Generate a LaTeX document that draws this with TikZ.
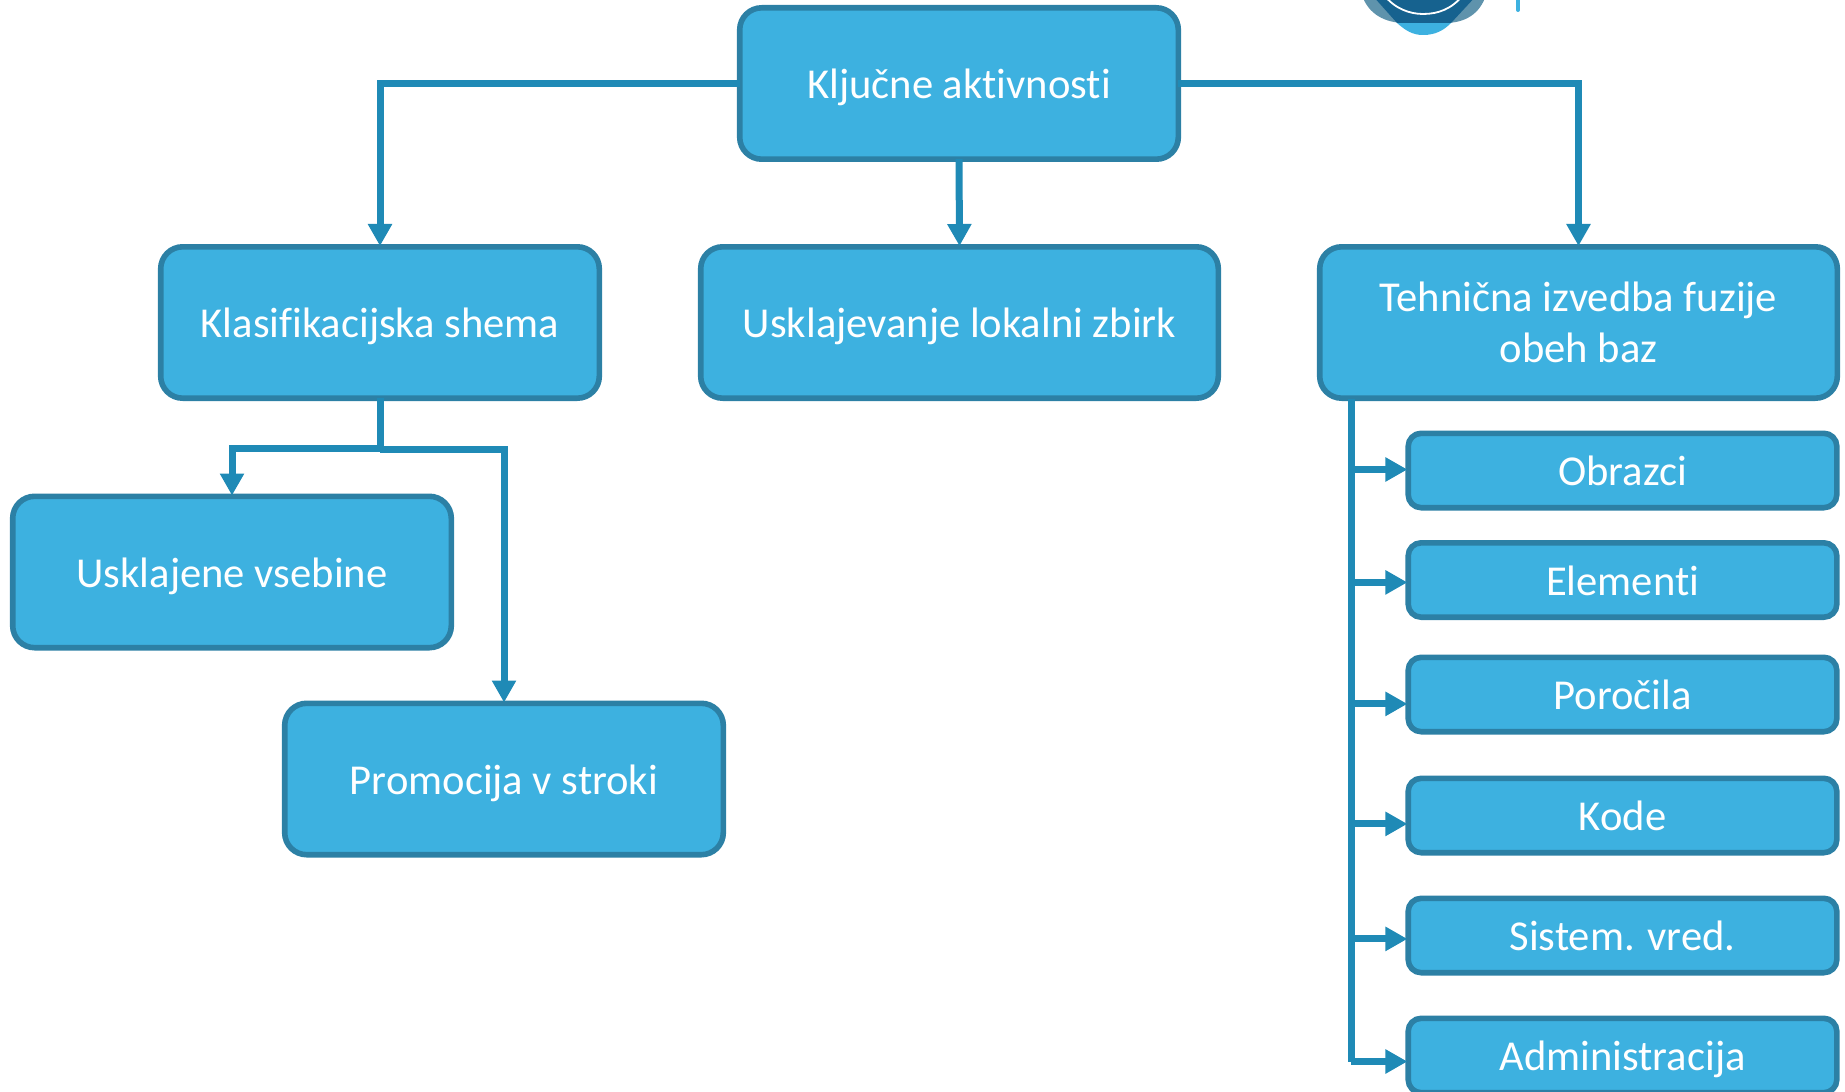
\documentclass[tikz,border=0pt]{standalone}
\usepackage{fontspec}
\setmainfont{Carlito}[Ligatures=NoCommon]
\usetikzlibrary{arrows.meta}
\definecolor{boxfill}{HTML}{3DB1E0}
\definecolor{boxedge}{HTML}{2C80A5}
\definecolor{linkcol}{HTML}{1F8AB6}
\definecolor{logomid}{HTML}{5F93AC}
\definecolor{logodark}{HTML}{16628F}
\tikzset{
  x=0.5pt,y=-0.5pt,
  boxbase/.style={draw=boxedge,fill=boxfill,line width=2.8pt,text=white,align=center,inner sep=0pt,outer sep=0pt,font=\fontsize{21.3}{25.5}\selectfont},
  oneline/.style={text height=15pt,text depth=0pt},
  bigbox/.style={boxbase,rounded corners=11pt,minimum height=75.7pt},
  smallbox/.style={boxbase,oneline,rounded corners=6.5pt,minimum width=214.3pt,minimum height=37.2pt},
  link/.style={draw=linkcol,line width=3.5pt,shorten >=0.4pt,-{Triangle[length=11pt,width=11.5pt]}},
  plainlink/.style={draw=linkcol,line width=3.5pt},
}
\begin{document}
\begin{tikzpicture}
\useasboundingbox (0,0) rectangle (1845,1091);
\clip (0,0) rectangle (1845,1091);
% logo fragment
\fill[logomid] (1362,-5) .. controls (1368,14) and (1385,23) .. (1405,23) -- (1445,23) .. controls (1465,23) and (1480,14) .. (1486,-5) -- cycle;
\fill[boxfill] (1397,23) .. controls (1405,30) and (1412,35) .. (1423,35) .. controls (1436,35) and (1444,30) .. (1451,23) -- cycle;
\fill[logodark] (1372,-5) -- (1397,23) -- (1451,23) -- (1477,-5) -- cycle;
\draw[white,line width=0.9pt] (1384,-5) .. controls (1395,9) and (1410,14) .. (1423,14) .. controls (1438,14) and (1452,9) .. (1463,-5);
\draw[boxfill,line width=2pt,line cap=round] (1518,-5) -- (1518,10);
% boxes
\node[bigbox,oneline,minimum width=219.3pt] (key) at (959,83.5) {Ključne aktivnosti};
\node[bigbox,oneline,minimum width=219.3pt] (klas) at (380,322.5) {Klasifikacijska shema};
\node[bigbox,oneline,minimum width=258.8pt] (lok) at (959.5,322.5) {Usklajevanje lokalni zbirk};
\node[bigbox,minimum width=258.8pt] (teh) at (1578.5,322.5) {Tehnična izvedba fuzije\\obeh baz};
\node[bigbox,oneline,minimum width=219.3pt] (vseb) at (232,572) {Usklajene vsebine};
\node[bigbox,oneline,minimum width=219.3pt] (prom) at (504,779) {Promocija v stroki};
\node[smallbox] (obr) at (1622.5,470.5) {Obrazci};
\node[smallbox] (ele) at (1622.5,580) {Elementi};
\node[smallbox] (por) at (1622.5,694.5) {Poročila};
\node[smallbox] (kod) at (1622.5,815.5) {Kode};
\node[smallbox] (sis) at (1622.5,935.5) {Sistem. vred.};
\node[smallbox] (adm) at (1622.5,1055.5) {Administracija};
% connectors
\coordinate (branch) at (380,448);
\coordinate (trunktop) at (1351,399);
\coordinate (trunkend) at (1351,1062);
\draw[link] (key.west) -| (klas.north);
\draw[link] (key.south) -- (lok.north);
\draw[link] (key.east) -| (teh.north);
\draw[plainlink] (klas.south) -- (branch);
\draw[link] (branch) -| (vseb.north);
\draw[link] ([yshift=-0.5pt]branch) -| (prom.north);
\draw[plainlink] (trunktop) -- (trunkend);
\foreach \n/\s in {obr/0.5,ele/-1.2,por/-4.7,kod/-4.2,sis/-1.7,adm/-3}{
  \coordinate (inpt) at ([yshift=\s pt]\n.west);
  \draw[link] (trunktop |- inpt) -- (inpt);
}
\end{tikzpicture}
\end{document}
